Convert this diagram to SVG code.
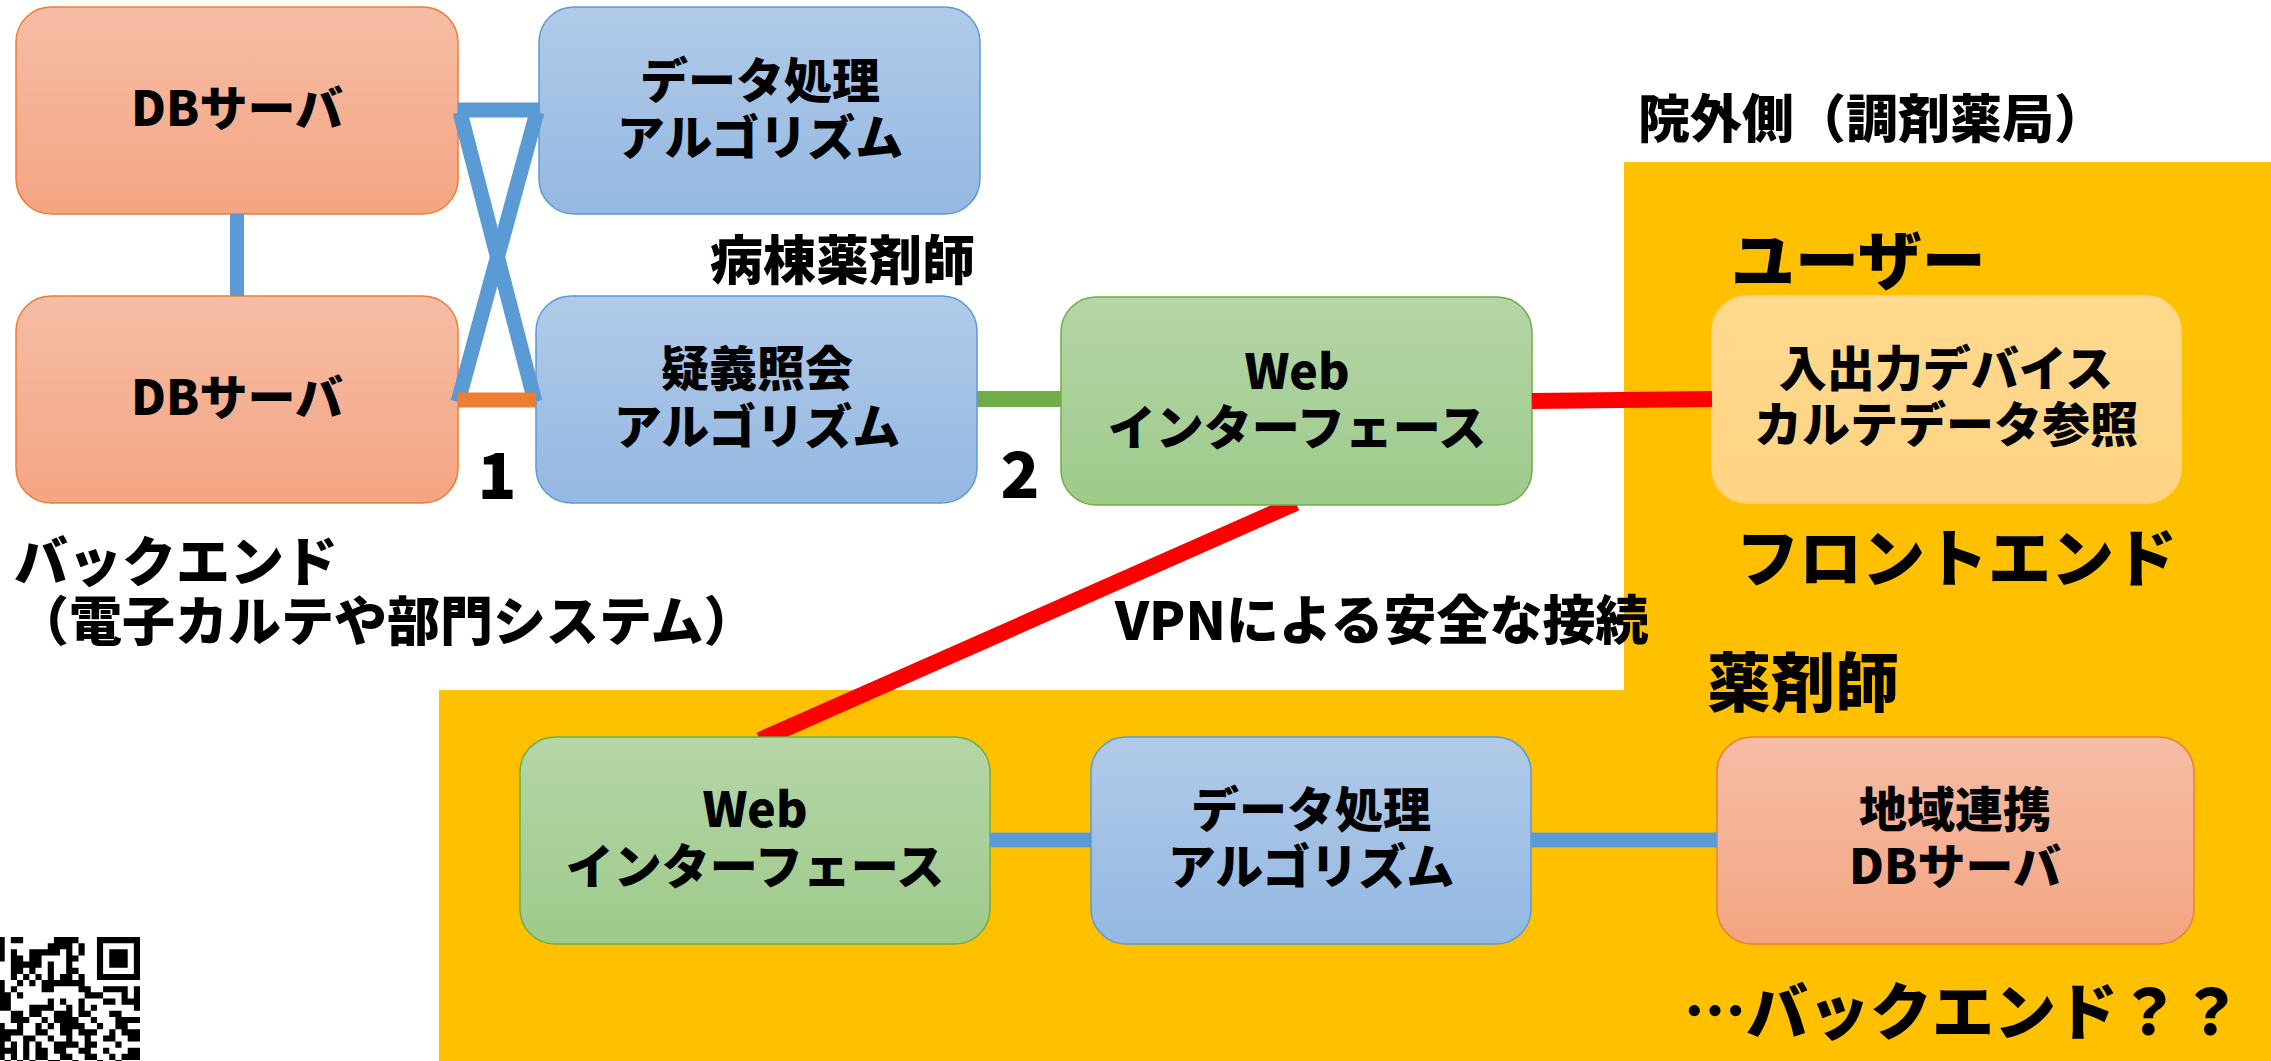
<svg xmlns="http://www.w3.org/2000/svg" width="2271" height="1061" viewBox="0 0 2271 1061">
<defs>
<linearGradient id="gOr" x1="0" y1="0" x2="0" y2="1"><stop offset="0" stop-color="#F6BDA5"/><stop offset="1" stop-color="#F4A582"/></linearGradient>
<linearGradient id="gBl" x1="0" y1="0" x2="0" y2="1"><stop offset="0" stop-color="#B1CAE8"/><stop offset="1" stop-color="#94B8E2"/></linearGradient>
<linearGradient id="gGr" x1="0" y1="0" x2="0" y2="1"><stop offset="0" stop-color="#B5D6A7"/><stop offset="1" stop-color="#9ECA8B"/></linearGradient>
<linearGradient id="gYe" x1="0" y1="0" x2="0" y2="1"><stop offset="0" stop-color="#FFD98F"/><stop offset="1" stop-color="#FFD483"/></linearGradient>
<style>
.or{fill:url(#gOr);stroke:#ED7D31;stroke-width:1.5}
.bl{fill:url(#gBl);stroke:#5B9BD5;stroke-width:1.5}
.gr{fill:url(#gGr);stroke:#70AD47;stroke-width:1.5}
.ye{fill:url(#gYe);stroke:#FFD586;stroke-width:1.5}
.t{font-family:"Noto Sans CJK JP","Noto Sans",sans-serif;font-weight:900;fill:#000;dominant-baseline:central}
.n{font-size:48px;text-anchor:middle}
.c{fill:none;stroke-linecap:butt}
.cb{stroke:#5B9BD5;stroke-width:15}
.co{stroke:#ED7D31;stroke-width:15}
.cg{stroke:#70AD47;stroke-width:16}
.cr{stroke:#FF0000;stroke-width:16}
</style>
</defs>
<rect x="0" y="0" width="2271" height="1061" fill="#FFFFFF"/>
<polygon id="outside-area" points="1624,162 2271,162 2271,1061 439,1061 439,690 1624,690" fill="#FFC000"/>

<g id="connectors-under">
<line class="c cr" x1="1296" y1="503" x2="760" y2="740"/>
</g>

<g id="node-db-top"><rect class="or" x="16" y="7" width="442" height="207" rx="35"/><text class="t n" x="237" y="105">DBサーバ</text></g>
<g id="node-proc-top"><rect class="bl" x="539" y="7" width="441" height="207" rx="35"/><text class="t n"><tspan x="760" y="77">データ処理</tspan><tspan x="760" y="134">アルゴリズム</tspan></text></g>
<g id="node-db-bottom"><rect class="or" x="16" y="296" width="442" height="207" rx="35"/><text class="t n" x="237" y="394">DBサーバ</text></g>
<g id="node-gigi"><rect class="bl" x="536" y="296" width="441" height="207" rx="35"/><text class="t n"><tspan x="757" y="365">疑義照会</tspan><tspan x="757" y="423">アルゴリズム</tspan></text></g>
<g id="node-web-top"><rect class="gr" x="1061" y="297" width="471" height="208" rx="35"/><text class="t n"><tspan x="1297" y="368">Web</tspan><tspan x="1297" y="424">インターフェース</tspan></text></g>
<g id="node-frontend"><rect class="ye" x="1712" y="296" width="469" height="207" rx="35"/><text class="t n"><tspan x="1946" y="365">入出力デバイス</tspan><tspan x="1946" y="421">カルテデータ参照</tspan></text></g>
<g id="node-web-bottom"><rect class="gr" x="520" y="737" width="470" height="207" rx="35"/><text class="t n"><tspan x="755" y="806">Web</tspan><tspan x="755" y="863">インターフェース</tspan></text></g>
<g id="node-proc-bottom"><rect class="bl" x="1091" y="737" width="440" height="207" rx="35"/><text class="t n"><tspan x="1311" y="806">データ処理</tspan><tspan x="1311" y="863">アルゴリズム</tspan></text></g>
<g id="node-region-db"><rect class="or" x="1717" y="737" width="477" height="207" rx="35"/><text class="t n"><tspan x="1955" y="806">地域連携</tspan><tspan x="1955" y="863">DBサーバ</tspan></text></g>

<g id="connectors">
<line class="c cb" x1="237" y1="214" x2="237" y2="296" style="stroke-width:14"/>
<line class="c cb" x1="458" y1="110" x2="540" y2="110"/>
<line class="c cb" x1="460" y1="112" x2="535" y2="402"/>
<line class="c cb" x1="537" y1="112" x2="458" y2="402"/>
<line class="c co" x1="458" y1="400" x2="536" y2="400"/>
<line class="c cg" x1="977" y1="399" x2="1061" y2="399"/>
<line class="c cr" x1="1532" y1="401" x2="1712" y2="399"/>
<line class="c cb" x1="990" y1="840" x2="1091" y2="840"/>
<line class="c cb" x1="1531" y1="840" x2="1717" y2="840"/>
</g>

<g id="labels">
<text class="t" x="497" y="471" font-size="64" text-anchor="middle">1</text>
<text class="t" x="1020" y="470" font-size="64" text-anchor="middle">2</text>
<text class="t" x="710" y="257" font-size="53">病棟薬剤師</text>
<text class="t" x="1638" y="115" font-size="52">院外側（調剤薬局）</text>
<text class="t" x="1731" y="256" font-size="64">ユーザー</text>
<text class="t" x="1736" y="553" font-size="63">フロントエンド</text>
<text class="t" x="1707" y="678" font-size="64">薬剤師</text>
<text class="t" x="1115" y="617" font-size="53">VPNによる安全な接続</text>
<text class="t"><tspan x="14" y="558" font-size="54">バックエンド</tspan><tspan x="16" y="618" font-size="53">（電子カルテや部門システム）</tspan></text>
<text class="t" x="1684" y="1008" font-size="62">…バックエンド？？</text>
</g>

<g id="qr" fill="#000">
<g transform="translate(-1.45,937) scale(6.15)">
<path d="M0 0h1v1h-1z M2 0h2v1h-2z M9 0h4v1h-4z
M0 1h1v1h-1z M8 1h4v1h-4z M13 1h1v1h-1z
M0 2h1v1h-1z M2 2h1v1h-1z M5 2h5v1h-5z M11 2h1v1h-1z M13 2h1v1h-1z
M0 3h1v1h-1z M2 3h2v1h-2z M5 3h2v1h-2z M11 3h2v1h-2z
M2 4h5v1h-5z M8 4h1v1h-1z M11 4h1v1h-1z
M2 5h2v1h-2z M5 5h1v1h-1z M8 5h1v1h-1z M11 5h2v1h-2z
M2 6h1v1h-1z M4 6h1v1h-1z M6 6h1v1h-1z M8 6h1v1h-1z M10 6h2v1h-2z M13 6h1v1h-1z
M0 7h1v1h-1z M3 7h1v1h-1z M5 7h1v1h-1z M7 7h7v1h-7z
M0 8h1v1h-1z M2 8h1v1h-1z M7 8h2v1h-2z M13 8h2v1h-2z M17 8h4v1h-4z M22 8h1v1h-1z
M0 9h2v1h-2z M3 9h1v1h-1z M14 9h3v1h-3z M20 9h1v1h-1z M22 9h1v1h-1z
M0 10h2v1h-2z M8 10h1v1h-1z M10 10h1v1h-1z M13 10h1v1h-1z M17 10h2v1h-2z M20 10h3v1h-3z
M0 11h2v1h-2z M5 11h4v1h-4z M11 11h1v1h-1z M13 11h1v1h-1z M15 11h1v1h-1z M22 11h1v1h-1z
M2 12h2v1h-2z M5 12h2v1h-2z M9 12h3v1h-3z M13 12h2v1h-2z M18 12h2v1h-2z
M2 13h3v1h-3z M7 13h1v1h-1z M9 13h4v1h-4z M15 13h1v1h-1z M19 13h4v1h-4z
M0 14h1v1h-1z M3 14h1v1h-1z M6 14h1v1h-1z M8 14h1v1h-1z M10 14h4v1h-4z M16 14h1v1h-1z M19 14h2v1h-2z
M0 15h4v1h-4z M6 15h2v1h-2z M10 15h2v1h-2z M13 15h3v1h-3z M18 15h1v1h-1z M20 15h3v1h-3z
M0 16h2v1h-2z M4 16h2v1h-2z M8 16h1v1h-1z M11 16h1v1h-1z M14 16h1v1h-1z M17 16h2v1h-2z M21 16h2v1h-2z
M0 17h1v1h-1z M2 17h1v1h-1z M4 17h1v1h-1z M6 17h1v1h-1z M9 17h4v1h-4z M14 17h2v1h-2z M19 17h1v1h-1z
M0 18h3v1h-3z M4 18h1v1h-1z M6 18h2v1h-2z M9 18h2v1h-2z M13 18h2v1h-2z M17 18h1v1h-1z M21 18h2v1h-2z
M0 19h1v1h-1z M2 19h1v1h-1z M4 19h1v1h-1z M6 19h2v1h-2z M10 19h2v1h-2z M14 19h2v1h-2z M18 19h1v1h-1z M20 19h3v1h-3z
M1 20h1v1h-1z M3 20h1v1h-1z M5 20h1v1h-1z M8 20h2v1h-2z M12 20h1v1h-1z M16 20h1v1h-1z M19 20h1v1h-1z
M16 0h7v7h-7z M17 1v5h5v-5z M18 2h3v3h-3z"/>
</g>
</g>
</svg>
